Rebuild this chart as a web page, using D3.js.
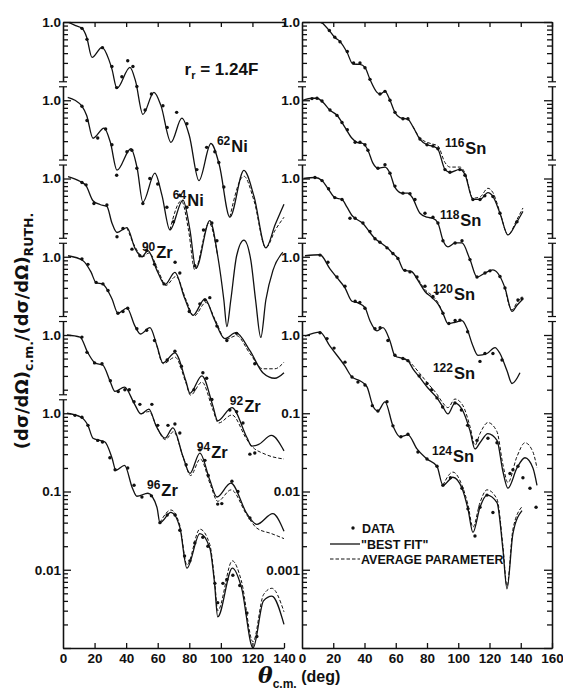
<!DOCTYPE html>
<html>
<head>
<meta charset="utf-8">
<script src="https://cdn.jsdelivr.net/npm/d3@7"></script>
<style>
  body { margin: 0; background: #fff; }
  text { fill: #111; }
  .tick text { font-family: "Liberation Sans Narrow", "Liberation Sans", sans-serif; font-weight: bold; font-size: 13.5px; fill: #111; }
  .tick line, .domain { stroke: #111; stroke-width: 1.3; }
</style>
</head>
<body>
<div id="chart"></div>
<script>
// ---- left panel: Ni and Zr, [angle (deg), ratio to Rutherford] ----
var ni62Best = [[3,1.0],[8,0.9],[12,0.83],[15,0.64],[18.4,0.353],[24.7,0.473],[29,0.333],[31,0.25],[34.2,0.142],[42.4,0.263],[46,0.174],[50.6,0.066],[57.6,0.126],[62,0.086],[68.4,0.029],[75.3,0.059],[80,0.0355],[86.1,0.0094],[93.7,0.028],[99,0.015],[105.7,0.0032],[114.6,0.0127],[121,0.0059],[128.5,0.0013],[134.5,0.0026],[140,0.0047]];
var ni62Avg = [[105.7,0.0032],[114.6,0.0107],[121,0.0052],[128.5,0.0013],[134.5,0.0022],[140,0.0032]];
var ni62Data = [[12,0.83],[15.2,0.6],[25,0.47],[31,0.27],[34,0.145],[37.3,0.2],[41,0.32],[44.3,0.27],[46.8,0.15],[52,0.075],[56,0.12],[63.3,0.085],[66,0.045],[72,0.07],[78.5,0.05],[84.8,0.013],[91,0.025],[96.2,0.022],[98.7,0.016],[101.9,0.0078]];

var ni64Best = [[3,1.09],[7.6,1.0],[12,0.84],[15,0.64],[19,0.327],[26,0.44],[30,0.29],[34.2,0.128],[43,0.24],[47,0.135],[50.6,0.05],[58.2,0.117],[62.7,0.061],[67.7,0.022],[76,0.053],[80.4,0.022],[84.2,0.0071],[93,0.029],[98,0.0103],[101.9,0.0028],[103.8,0.00128],[106.3,0.0028],[110,0.0103],[114.6,0.0163],[119,0.009],[122,0.0028],[125.3,0.00093],[128.5,0.0028],[133,0.0067],[139.2,0.0114]];
var ni64Avg = [[67.7,0.022],[75,0.052],[79.5,0.022],[83.5,0.0068],[92.5,0.027],[98,0.0103]];
var ni64Data = [[12,0.84],[15.2,0.55],[22,0.33],[27,0.43],[31,0.27],[34,0.11],[40.5,0.22],[43.6,0.23],[46.8,0.135],[50.6,0.048],[55,0.1],[60,0.085],[65.8,0.043],[70,0.028],[74,0.061],[78.5,0.043],[83.5,0.0077],[89,0.022],[94.3,0.027],[97.5,0.016]];

var zr90Best = [[3.2,1.06],[11,0.915],[14.6,0.81],[19,0.52],[23.4,0.465],[27.8,0.44],[31,0.27],[34.2,0.204],[40.5,0.236],[45.6,0.128],[50,0.1],[53.8,0.12],[59.5,0.067],[64.6,0.044],[70.9,0.063],[77.2,0.029],[82.3,0.0178],[89.9,0.029],[95.6,0.0163],[102.5,0.009],[109.5,0.0107],[118.4,0.0063],[126.6,0.0033],[134.2,0.0028],[140,0.0033]];
var zr90Avg = [[40.5,0.236],[46.5,0.125],[50.5,0.1],[54.5,0.112],[60.5,0.065],[65.2,0.043],[71.5,0.056],[78,0.028],[83,0.0175],[90.5,0.026],[96.5,0.0155],[103,0.0088],[110,0.0098],[118.4,0.0058],[126.6,0.0037],[134.2,0.0037],[140,0.0045]];
var zr90Data = [[12,0.89],[14.6,0.83],[19.6,0.48],[27.8,0.46],[34.2,0.18],[38,0.23],[43.7,0.125],[48.7,0.103],[53,0.12],[58,0.08],[64,0.045],[71,0.085],[74,0.062],[80,0.02],[86.7,0.025],[90,0.028],[93,0.03],[97.5,0.013],[103.8,0.0085],[110,0.0105],[121.5,0.0043]];

var zr92Best = [[3.2,1.03],[12.7,0.89],[17.7,0.64],[21,0.465],[25,0.45],[31,0.29],[34.8,0.19],[40.5,0.22],[45.6,0.13],[49,0.103],[55.1,0.124],[59.5,0.073],[63.3,0.044],[70.9,0.059],[77.8,0.026],[80.4,0.018],[88,0.03],[94.9,0.0125],[98,0.008],[107,0.0118],[116.5,0.0049],[119.6,0.0038],[124,0.004],[132,0.0052],[140,0.0033]];
var zr92Avg = [[59.5,0.073],[63.5,0.043],[71,0.052],[78,0.024],[80.8,0.017],[88,0.025],[95,0.011],[98.5,0.0075],[107,0.0095],[116.5,0.0046],[119.6,0.0038],[128,0.003],[140,0.0026]];
var zr92Data = [[12,0.94],[15.8,0.8],[21,0.47],[25.3,0.45],[28.5,0.37],[34.8,0.19],[38,0.2],[41,0.22],[46.8,0.12],[53,0.115],[58,0.085],[66,0.048],[70.9,0.062],[75,0.04],[83,0.02],[88.6,0.033],[91,0.028],[94.3,0.015],[105.7,0.011],[110,0.0105],[114,0.0075],[118.4,0.003],[121.5,0.0031]];

var zr94Best = [[2.5,1.0],[10.8,0.94],[15.8,0.59],[20.3,0.44],[25.3,0.41],[29.7,0.26],[32.9,0.19],[39,0.216],[45,0.135],[49.4,0.098],[54.4,0.113],[59,0.069],[64.6,0.048],[69.6,0.065],[76,0.028],[80.4,0.017],[86.7,0.031],[93,0.014],[97.5,0.0085],[106.3,0.0128],[116.5,0.0052],[122.8,0.0038],[132.9,0.0052],[140,0.0031]];
var zr94Avg = [[49.4,0.098],[54.6,0.105],[59.5,0.066],[64.8,0.046],[70,0.058],[76.5,0.026],[80.8,0.016],[87,0.026],[93.5,0.012],[98,0.0075],[106.5,0.0105],[116.5,0.005],[122.8,0.0034],[132,0.0029],[140,0.0025]];
var zr94Data = [[12,0.94],[15.2,0.6],[20,0.44],[24.7,0.43],[30,0.26],[35,0.19],[39.2,0.2],[42,0.2],[45,0.14],[48.7,0.13],[56.3,0.13],[60,0.07],[66.5,0.07],[70.9,0.073],[74,0.056],[78,0.022],[86.7,0.034],[89.9,0.025],[92,0.016],[98,0.0069],[100.6,0.007],[107,0.0135],[110.8,0.01],[118.4,0.0046]];

var zr96Best = [[2.5,1.0],[11.5,0.89],[15.8,0.7],[19,0.48],[23.4,0.45],[26.6,0.43],[31,0.27],[33.5,0.187],[39,0.216],[44,0.11],[46.8,0.087],[53.8,0.095],[59.5,0.063],[61.4,0.04],[68.4,0.054],[74,0.035],[78.5,0.0105],[86.7,0.029],[93,0.019],[96,0.0067],[98,0.0025],[107.3,0.0105],[113,0.006],[120.4,0.001],[127,0.004],[132.3,0.0046],[140,0.002]];
var zr96Avg = [[61.4,0.04],[68.4,0.058],[74,0.037],[78.5,0.0115],[86.7,0.033],[93,0.021],[96,0.0075],[98,0.003],[107.3,0.013],[113,0.0072],[120.4,0.0012],[127,0.0048],[132.3,0.0058],[140,0.0029]];
var zr96Data = [[7.6,0.94],[12,0.89],[15.8,0.7],[22,0.45],[25,0.43],[29.7,0.27],[33,0.19],[41,0.2],[45,0.12],[50,0.085],[56,0.088],[61.4,0.04],[66,0.05],[71,0.05],[74,0.032],[77,0.015],[80.4,0.013],[83.5,0.022],[88.6,0.026],[91.8,0.02],[96.2,0.0067],[98,0.0038],[101.3,0.0067],[103.8,0.0075],[107.6,0.0085],[112,0.0063],[116.5,0.0028],[122.8,0.0014]];

// ---- right panel: Sn ----
var sn116Best = [[12.5,1.0],[17.9,0.76],[21,0.635],[24.3,0.565],[28.8,0.41],[32.6,0.29],[37.1,0.287],[40.3,0.263],[43.5,0.185],[48,0.126],[49.9,0.119],[53.1,0.13],[56.3,0.1],[59.5,0.07],[62.7,0.06],[67.8,0.057],[71,0.046],[75.5,0.0316],[80,0.027],[83.8,0.0258],[87,0.0236],[91.5,0.0131],[94.7,0.012],[101,0.0131],[104.3,0.0113],[109.4,0.0054],[113.9,0.0054],[119,0.0066],[122.2,0.0059],[126.7,0.0036],[131.8,0.0019],[137.6,0.0028],[141.4,0.0038]];
var sn116Avg = [[71,0.046],[75.5,0.033],[80,0.029],[83.8,0.0275],[87,0.026],[91.5,0.016],[94.7,0.014],[101,0.014],[104.3,0.0118],[109.4,0.0056],[113.9,0.0058],[119,0.0075],[122.2,0.0066],[126.7,0.0037],[131.8,0.0019],[137.6,0.003],[141.4,0.0042]];
var sn116Data = [[12.8,1.0],[17.5,0.78],[21,0.64],[24.3,0.56],[29,0.42],[33,0.3],[37.1,0.3],[40.3,0.26],[43.5,0.185],[49.9,0.12],[53.1,0.13],[56.3,0.1],[59.5,0.07],[64.6,0.058],[67.8,0.058],[75.5,0.032],[80,0.027],[83.8,0.026],[87,0.024],[91.5,0.013],[94.7,0.012],[101,0.013],[104.3,0.011],[109.4,0.0054],[113.9,0.0054],[117,0.006],[122.2,0.0059],[126.7,0.0036],[137.6,0.0028]];

var sn118Best = [[0.5,1.0],[6.4,1.06],[9.6,1.06],[13.4,0.94],[17.9,0.745],[22.4,0.643],[27.5,0.45],[32,0.327],[35.2,0.29],[39,0.28],[42.2,0.23],[45.4,0.157],[48.6,0.135],[53.1,0.14],[56.3,0.117],[59.5,0.077],[64,0.065],[67.8,0.065],[70.4,0.058],[75.5,0.036],[80,0.032],[83.8,0.031],[87,0.027],[90.2,0.0163],[93.4,0.0134],[98,0.015],[102.4,0.015],[107.5,0.0092],[112,0.0055],[117.1,0.0062],[122.2,0.0068],[126.7,0.0056],[129.9,0.004],[134.4,0.002],[137.6,0.0024],[140.8,0.0028]];
var sn118Avg = [[129.9,0.004],[134.4,0.0021],[137.6,0.0026],[140.8,0.0031]];
var sn118Data = [[6.4,1.05],[9.6,1.06],[12.8,0.98],[17.9,0.75],[22.4,0.64],[25.6,0.52],[29,0.42],[34,0.29],[37.1,0.29],[40.3,0.27],[42.2,0.23],[48.6,0.135],[53.1,0.15],[56.3,0.117],[59.5,0.08],[64.6,0.065],[69.1,0.064],[72.3,0.054],[78.7,0.036],[83.8,0.032],[87,0.027],[90.2,0.016],[98,0.015],[102.4,0.016],[107.5,0.0092],[112,0.0055],[117.1,0.0062],[120.3,0.0066],[126.7,0.0056],[129.9,0.004],[138.2,0.0028],[140.8,0.0029]];

var sn120Best = [[1,1.0],[8.3,1.03],[12.8,0.94],[16.6,0.745],[21,0.57],[25.6,0.54],[28.8,0.43],[32,0.337],[34,0.31],[39,0.266],[43.5,0.204],[46.7,0.171],[49.9,0.153],[54.4,0.131],[58.2,0.11],[61.4,0.095],[65.3,0.067],[70,0.065],[74.2,0.05],[78.7,0.036],[83.2,0.03],[87,0.025],[90.2,0.019],[93.4,0.014],[97.9,0.0145],[102.4,0.0153],[105.6,0.0121],[108.8,0.0078],[112.6,0.0055],[118.4,0.0058],[123.5,0.0069],[126.7,0.0058],[131.2,0.0035],[134.4,0.0024],[139.5,0.0033]];
var sn120Avg = [[70,0.065],[74.2,0.052],[78.7,0.038],[83.2,0.032],[87,0.026],[90.2,0.019]];
var sn120Data = [[8.3,1.03],[12.8,0.94],[17,0.74],[21,0.57],[25.6,0.54],[30.7,0.31],[34,0.31],[39,0.27],[43.5,0.21],[46.7,0.17],[49.9,0.153],[54.4,0.13],[58.2,0.11],[61.4,0.095],[65.9,0.067],[69.1,0.064],[73.6,0.055],[78.7,0.042],[83.8,0.031],[86.4,0.034],[90.2,0.019],[94,0.014],[98,0.0153],[101.1,0.0155],[106,0.011],[113.9,0.0046],[117.1,0.0058],[122.2,0.0058],[128,0.0048]];

var sn122Best = [[1.9,1.03],[11.5,1.06],[17.9,0.7],[22.4,0.54],[27.5,0.4],[32,0.27],[35.8,0.258],[40.3,0.223],[43.5,0.152],[48,0.113],[51.8,0.124],[56.3,0.084],[59.5,0.054],[64.6,0.05],[67.8,0.047],[71,0.037],[75.5,0.0285],[80.6,0.021],[86.4,0.0157],[90.2,0.012],[93.4,0.0098],[97.9,0.0135],[103,0.0107],[107.5,0.006],[110.7,0.0035],[113.9,0.0042],[119,0.0055],[124.8,0.0045],[128.6,0.0018],[131.8,0.0011],[137.6,0.002],[142.7,0.0027],[147.8,0.002],[150.4,0.0012]];
var sn122Avg = [[64.6,0.05],[67.8,0.048],[71,0.041],[75.5,0.032],[80.6,0.024],[86.4,0.0175],[90.2,0.0135],[93.4,0.0118],[97.9,0.0152],[103,0.0125],[107.5,0.0068],[110.7,0.0039],[113.9,0.0055],[119,0.0076],[124.8,0.0058],[128.6,0.0022],[131.8,0.0013],[137.6,0.0028],[142.7,0.0042],[147.8,0.0032],[150.4,0.002]];
var sn122Data = [[11.5,1.05],[16.6,0.85],[22.4,0.55],[27.5,0.42],[34,0.27],[37,0.26],[40.3,0.22],[46.7,0.12],[50,0.124],[55,0.085],[59.5,0.055],[64.6,0.05],[67.8,0.047],[75,0.03],[80,0.024],[83,0.02],[86.4,0.0157],[90,0.012],[97.9,0.0135],[102,0.011],[106,0.007],[112,0.0045],[119,0.0048],[124.8,0.0042],[133.1,0.0017],[135,0.0019],[138.2,0.0021],[141.4,0.0015],[145.9,0.0011],[149.8,0.00063]];

var sn124Best = [[1.9,0.97],[11.5,1.09],[17.9,0.72],[27.5,0.4],[32,0.29],[37.1,0.26],[41.6,0.217],[45.4,0.124],[48.6,0.107],[53.1,0.14],[58.2,0.069],[62.7,0.05],[67.8,0.053],[73.6,0.035],[80,0.026],[86.4,0.021],[90.2,0.012],[96.6,0.0152],[102.4,0.011],[106.2,0.006],[109.4,0.003],[113.9,0.0063],[118.4,0.009],[124.8,0.0072],[128.6,0.0018],[131.2,0.00057],[135,0.0029],[140.8,0.0057]];
var sn124Avg = [[90.2,0.012],[96.6,0.0177],[102.4,0.012],[106.2,0.0068],[109.4,0.0035],[113.9,0.0072],[118.4,0.0105],[124.8,0.008],[128.6,0.002],[131.2,0.00062],[135,0.0033],[140.8,0.0064]];
var sn124Data = [[11.5,1.07],[16,0.9],[20.5,0.68],[27.5,0.45],[32,0.29],[35.8,0.25],[40.3,0.23],[45,0.125],[48.6,0.107],[54.4,0.14],[58.2,0.069],[63.3,0.05],[67.8,0.054],[74.2,0.032],[80,0.026],[86.4,0.021],[90.2,0.012],[95,0.015],[102.4,0.011],[106.2,0.006],[110.7,0.0027],[113.9,0.0063],[118.4,0.009],[122.2,0.0054]];

// tick labels
var leftTickVals = [1e5, 1e4, 1e3, 1e2, 1e1, 1, 0.1, 0.01];
var leftTickText = ["1.0", "1.0", "1.0", "1.0", "1.0", "1.0", "0.1", "0.01"];
var rightTickVals = [1e4, 1e3, 1e2, 1e1, 1, 0.1, 0.01, 0.001];
var rightTickText = ["1.0", "1.0", "1.0", "1.0", "1.0", "0.1", "0.01", "0.001"];
var leftAngles = [0, 20, 40, 60, 80, 100, 120, 140];
var rightAngles = [0, 20, 40, 60, 80, 100, 120, 140, 160];

// each curve sits one decade below the previous one
var leftSets = [
  {mass: "62", el: "Ni", mult: 1e5, best: ni62Best, avg: ni62Avg, dots: ni62Data, at: [97.5, 0.022]},
  {mass: "64", el: "Ni", mult: 1e4, best: ni64Best, avg: ni64Avg, dots: ni64Data, at: [69.6, 0.045]},
  {mass: "90", el: "Zr", mult: 1e3, best: zr90Best, avg: zr90Avg, dots: zr90Data, at: [50, 0.095]},
  {mass: "92", el: "Zr", mult: 1e2, best: zr92Best, avg: zr92Avg, dots: zr92Data, at: [105.7, 0.0104]},
  {mass: "94", el: "Zr", mult: 1e1, best: zr94Best, avg: zr94Avg, dots: zr94Data, at: [84.8, 0.027]},
  {mass: "96", el: "Zr", mult: 1, best: zr96Best, avg: zr96Avg, dots: zr96Data, at: [53.2, 0.087]}
];
var rightSets = [
  {mass: "116", el: "Sn", mult: 1e4, best: sn116Best, avg: sn116Avg, dots: sn116Data, at: [91.5, 0.0203]},
  {mass: "118", el: "Sn", mult: 1e3, best: sn118Best, avg: sn118Avg, dots: sn118Data, at: [88.3, 0.025]},
  {mass: "120", el: "Sn", mult: 1e2, best: sn120Best, avg: sn120Avg, dots: sn120Data, at: [83.8, 0.028]},
  {mass: "122", el: "Sn", mult: 1e1, best: sn122Best, avg: sn122Avg, dots: sn122Data, at: [83.8, 0.027]},
  {mass: "124", el: "Sn", mult: 1, best: sn124Best, avg: sn124Avg, dots: sn124Data, at: [83.2, 0.024]}
];

var svgWidth = 563, svgHeight = 692;
var plotTop = 22, plotBottom = 648;

var svg = d3.select("#chart").append("svg")
  .attr("width", svgWidth)
  .attr("height", svgHeight)
  .style("background", "#fff");

var leftX = d3.scaleLinear().domain([0, 140]).range([63, 284]);
var leftY = d3.scaleLog().domain([1e-3, 1e5]).range([plotBottom, plotTop]);
var rightX = d3.scaleLinear().domain([0, 160]).range([302, 552]);
var rightY = d3.scaleLog().domain([1e-4, 1e4]).range([plotBottom, plotTop]);

function logTicks(lo, hi) {
  var out = [];
  for (var e = lo; e < hi; e++) {
    for (var m = 2; m <= 9; m++) out.push(m * Math.pow(10, e));
  }
  return out;
}
function decades(lo, hi) {
  var out = [];
  for (var e = lo; e <= hi; e++) out.push(Math.pow(10, e));
  return out;
}

function drawBreak(x, y) {
  svg.append("rect").attr("x", x - 3).attr("y", y - 2.5).attr("width", 6).attr("height", 5).attr("fill", "#fff");
  [-2.5, 2.5].forEach(function(o) {
    svg.append("line").attr("x1", x - 4).attr("x2", x + 4).attr("y1", y + o).attr("y2", y + o)
      .attr("stroke", "#111").attr("stroke-width", 1.2);
  });
}

function panel(x, y, xTicks, loExp, hiExp, tickVals, tickText, rightBorder, breaks) {
  var x0 = x.range()[0], x1 = x.range()[1];
  // left axis, ticks pointing inwards
  svg.append("g").attr("transform", `translate(${x0},0)`)
    .call(d3.axisRight(y).tickValues(logTicks(loExp, hiExp)).tickSize(5).tickFormat("").tickSizeOuter(0));
  svg.append("g").attr("transform", `translate(${x0},0)`)
    .call(d3.axisRight(y).tickValues(decades(loExp, hiExp)).tickSize(8).tickFormat("").tickSizeOuter(0));
  svg.append("g").attr("transform", `translate(${x0},0)`)
    .call(d3.axisLeft(y).tickValues(tickVals).tickSize(0).tickPadding(2)
      .tickFormat(function(d, i) { return tickText[i]; }))
    .call(g => g.select(".domain").remove());
  if (rightBorder) {
    svg.append("g").attr("transform", `translate(${x1},0)`)
      .call(d3.axisLeft(y).tickValues(logTicks(loExp, hiExp)).tickSize(5).tickFormat("").tickSizeOuter(0));
    svg.append("g").attr("transform", `translate(${x1},0)`)
      .call(d3.axisLeft(y).tickValues(decades(loExp, hiExp)).tickSize(8).tickFormat("").tickSizeOuter(0));
  }
  // bottom axis
  svg.append("g").attr("transform", `translate(0,${plotBottom})`)
    .call(d3.axisTop(x).tickValues(xTicks.slice(1)).tickSize(5).tickFormat("").tickSizeOuter(0));
  svg.append("g").attr("transform", `translate(0,${plotBottom})`)
    .call(d3.axisBottom(x).tickValues(xTicks).tickSize(0).tickPadding(5))
    .call(g => g.select(".domain").remove());
  // top border
  svg.append("g").attr("transform", `translate(0,${plotTop})`)
    .call(d3.axisBottom(x).tickValues(xTicks.slice(1)).tickSize(5).tickFormat("").tickSizeOuter(0));
  breaks.forEach(function(v) {
    drawBreak(x0, y(v));
    if (rightBorder) drawBreak(x1, y(v));
  });
}

panel(leftX, leftY, leftAngles, -3, 5, leftTickVals, leftTickText, false, [1.6e4, 1.6e3, 1.6e2, 1.6e1, 1.6]);
panel(rightX, rightY, rightAngles, -4, 4, rightTickVals, rightTickText, true, [1.6e3, 1.6e2, 1.6e1, 1.6]);

function curves(sets, x, y, clipId) {
  var x0 = x.range()[0], x1 = x.range()[1];
  svg.append("clipPath").attr("id", clipId).append("rect")
    .attr("x", x0).attr("y", plotTop).attr("width", x1 - x0 + 2).attr("height", plotBottom - plotTop);
  var g = svg.append("g").attr("clip-path", `url(#${clipId})`);

  sets.forEach(function(s) {
    var line = d3.line()
      .x(d => x(d[0]))
      .y(d => y(d[1] * s.mult))
      .curve(d3.curveMonotoneX);

    g.append("path").datum(s.best)
      .attr("d", line)
      .attr("fill", "none").attr("stroke", "#111").attr("stroke-width", 1.3);

    g.append("path").datum(s.avg)
      .attr("d", line)
      .attr("fill", "none").attr("stroke", "#111").attr("stroke-width", 1)
      .attr("stroke-dasharray", "3.5,2");

    g.selectAll(null).data(s.dots).enter()
      .append("circle")
      .attr("cx", d => x(d[0]))
      .attr("cy", d => y(d[1] * s.mult))
      .attr("r", 1.7)
      .attr("fill", "#111");

    var label = svg.append("text")
      .attr("x", x(s.at[0]))
      .attr("y", y(s.at[1] * s.mult))
      .style("font-family", "'Liberation Sans', Arial, sans-serif")
      .style("font-weight", "bold");
    label.append("tspan").text(s.mass).style("font-size", "12px").attr("dy", -7);
    label.append("tspan").text(s.el).style("font-size", "16.5px").attr("dy", 7).attr("dx", 1);
  });
}

curves(leftSets, leftX, leftY, "clipLeft");
curves(rightSets, rightX, rightY, "clipRight");

// radius note
var rr = svg.append("text")
  .attr("x", leftX(77))
  .attr("y", leftY(0.21 * 1e5))
  .style("font-family", "'Liberation Sans', Arial, sans-serif")
  .style("font-weight", "bold")
  .style("font-size", "17px");
rr.append("tspan").text("r");
rr.append("tspan").text("r").style("font-size", "11px").attr("dy", 4);
rr.append("tspan").text(" = 1.24F").attr("dy", -4);

// legend
var legend = svg.append("g").attr("transform", "translate(330,528)")
  .style("font-family", "'Liberation Sans Narrow', 'Liberation Sans', sans-serif")
  .style("font-weight", "bold")
  .style("font-size", "12.5px");
legend.append("circle").attr("cx", 23).attr("cy", 0).attr("r", 1.7).attr("fill", "#111");
legend.append("text").attr("x", 32).attr("y", 4.5).text("DATA");
legend.append("line").attr("x1", 0).attr("x2", 30).attr("y1", 16).attr("y2", 16)
  .attr("stroke", "#111").attr("stroke-width", 1.3);
legend.append("text").attr("x", 31).attr("y", 20.5).text("\"BEST FIT\"");
legend.append("line").attr("x1", 0).attr("x2", 30).attr("y1", 31).attr("y2", 31)
  .attr("stroke", "#111").attr("stroke-width", 1).attr("stroke-dasharray", "3.5,2");
legend.append("text").attr("x", 31).attr("y", 35.5).text("AVERAGE PARAMETER");

// y axis title
var yt = svg.append("text")
  .attr("transform", "translate(28,331) rotate(-90)")
  .attr("text-anchor", "middle")
  .style("font-family", "'DejaVu Sans', sans-serif")
  .style("font-weight", "bold")
  .style("font-size", "18px");
yt.append("tspan").text("(dσ/dΩ)");
yt.append("tspan").text("c.m.").style("font-size", "12.5px").attr("dy", 5);
yt.append("tspan").text("/(dσ/dΩ)").attr("dy", -5);
yt.append("tspan").text("RUTH.").style("font-size", "12.5px").attr("dy", 5);

// x axis title
var xt = svg.append("text")
  .attr("x", 258)
  .attr("y", 683)
  .style("font-weight", "bold");
xt.append("tspan").text("θ").style("font-family", "'DejaVu Serif', serif").style("font-style", "italic").style("font-size", "22px");
xt.append("tspan").text("c.m.").style("font-family", "'Liberation Sans', sans-serif").style("font-size", "12px").attr("dy", 5);
xt.append("tspan").text(" (deg)").style("font-family", "'Liberation Sans', sans-serif").style("font-size", "16px").attr("dy", -6);
</script>
</body>
</html>
